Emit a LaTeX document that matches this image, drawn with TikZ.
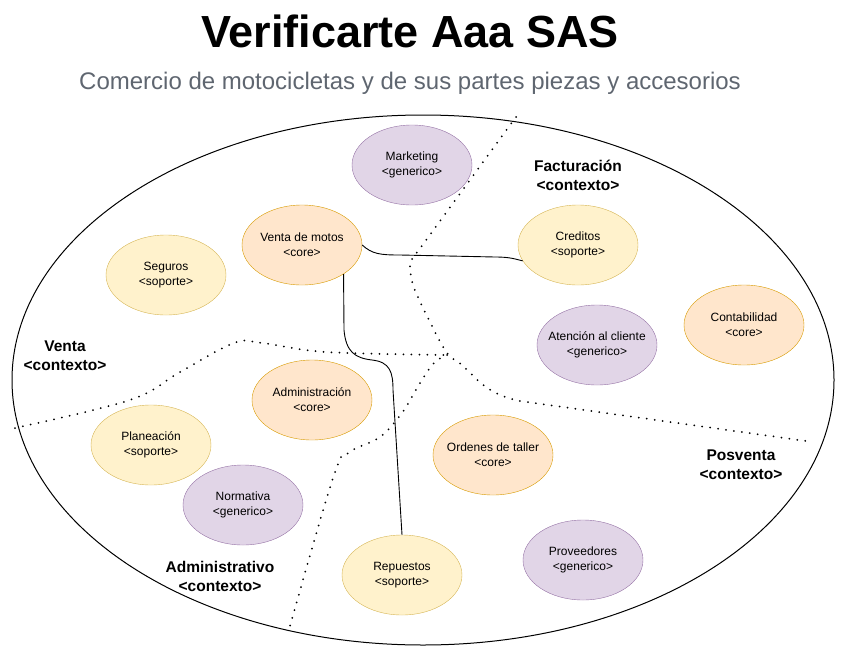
\documentclass[tikz,border=0pt]{standalone}
\usepackage{fontspec}
\setmainfont{Liberation Sans}
\usepackage{xcolor}
\usepackage{tikz}
\usetikzlibrary{shapes.geometric}

\definecolor{corefill}{HTML}{FFE6CC}
\definecolor{coreline}{HTML}{D79B00}
\definecolor{soportefill}{HTML}{FFF2CC}
\definecolor{soporteline}{HTML}{D6B656}
\definecolor{genericofill}{HTML}{E1D5E7}
\definecolor{genericoline}{HTML}{9673A6}
\definecolor{subgray}{HTML}{5F6670}

\tikzstyle{core} = [ellipse, minimum width=120pt, minimum height=80pt, inner xsep=-25pt, inner ysep=0pt, align=center, draw=coreline, fill=corefill, font=\fontsize{12}{15}\selectfont]
\tikzstyle{soporte} = [ellipse, minimum width=120pt, minimum height=80pt, inner xsep=-25pt, inner ysep=0pt, align=center, draw=soporteline, fill=soportefill, font=\fontsize{12}{15}\selectfont]
\tikzstyle{generico} = [ellipse, minimum width=120pt, minimum height=80pt, inner xsep=-25pt, inner ysep=0pt, align=center, draw=genericoline, fill=genericofill, font=\fontsize{12}{15}\selectfont]
\tikzstyle{contexto} = [align=center, inner sep=0pt, font=\bfseries\fontsize{15.5}{19}\selectfont]
\tikzstyle{frontera} = [line width=2pt, line cap=round, dash pattern=on 0pt off 8pt]
\tikzstyle{link} = [line width=0.9pt]

\begin{document}
\begin{tikzpicture}[x=1pt, y=-1pt]
  \useasboundingbox (0,0) rectangle (848,664);

  \node (titulo) [anchor=base, font=\bfseries\fontsize{45}{54}\selectfont] at (410,47) {Verificarte Aaa SAS};
  \node (subtitulo) [anchor=base, text=subgray, font=\fontsize{24}{29}\selectfont] at (410,89) {Comercio de motocicletas y de sus partes piezas y accesorios};

  % dominio
  \draw[line width=1pt] (423,380) ellipse [x radius=411, y radius=265];

  % fronteras entre contextos
  \draw[frontera] (516,117) -- plot[smooth, tension=0.6] coordinates {(410,262) (413,285) (430,322) (447,353) (462,365) (482,384) (500,395) (520,401)} -- (813,442);
  \draw[frontera] plot[smooth, tension=0.6] coordinates {(15,428) (130,400) (180,372) (234,343) (262,343) (326,352) (447,355)};
  \draw[frontera] plot[smooth, tension=0.6] coordinates {(447,355) (433,364) (417,388) (402,413) (380,437) (350,452) (334,475) (288,633)};

  \node (venta) [contexto] at (65,356) {Venta\\<contexto>};
  \node (facturacion) [contexto] at (578,175) {Facturación\\<contexto>};
  \node (administrativo) [contexto] at (220,576) {Administrativo\\<contexto>};
  \node (posventa) [contexto] at (741,465) {Posventa\\<contexto>};

  \node (marketing) [generico] at (412,165) {Marketing\\<generico>};
  \node (motos) [core] at (302,245) {Venta de motos\\<core>};
  \node (seguros) [soporte] at (166,275) {Seguros\\<soporte>};
  \node (creditos) [soporte] at (578,245) {Creditos\\<soporte>};
  \node (contabilidad) [core] at (744,325) {Contabilidad\\<core>};
  \node (atencion) [generico] at (597,345) {Atención al cliente\\<generico>};
  \node (administracion) [core] at (312,400) {Administración\\<core>};
  \node (planeacion) [soporte] at (151,445) {Planeación\\<soporte>};
  \node (normativa) [generico] at (243,505) {Normativa\\<generico>};
  \node (ordenes) [core] at (493,455) {Ordenes de taller\\<core>};
  \node (repuestos) [soporte] at (402,575) {Repuestos\\<soporte>};
  \node (proveedores) [generico] at (583,560) {Proveedores\\<generico>};

  % relaciones
  \draw[link] (motos.east) .. controls (372,254) and (380,255) .. (400,255) -- (495,257) .. controls (510,257) and (515,259) .. (creditos.196);
  \draw[link] (motos.-35) -- (344,330) .. controls (346,352) and (355,358) .. (372,360) .. controls (390,362) and (393,372) .. (393,390) -- (repuestos.north);
\end{tikzpicture}
\end{document}
